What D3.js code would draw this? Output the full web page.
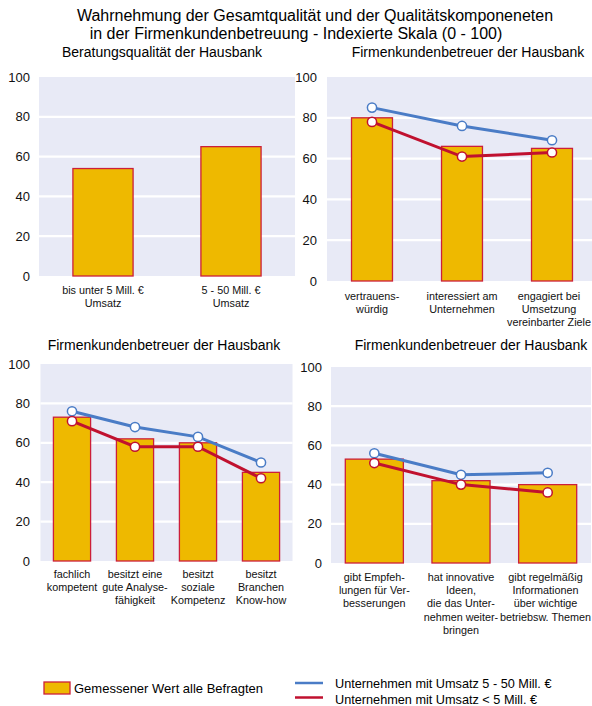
<!DOCTYPE html>
<html>
<head>
<meta charset="utf-8">
<script src="https://cdn.jsdelivr.net/npm/d3@7"></script>
<style>
	body { margin: 0; background: #fff; }
	svg { display: block; font-family: "Liberation Sans", Arial, sans-serif; }
</style>
</head>
<body>
<svg id="chart" width="592" height="706"></svg>
<script>
// data
const ticks = [0, 20, 40, 60, 80, 100];

const catsBeratung = ["bis unter 5 Mill. €\nUmsatz", "5 - 50 Mill. €\nUmsatz"];
const allBeratung = [54, 65];

const catsBetreuer1 = ["vertrauens-\nwürdig", "interessiert am\nUnternehmen", "engagiert bei\nUmsetzung\nvereinbarter Ziele"];
const allBetreuer1 = [80, 66, 65];
const bigBetreuer1 = [85, 76, 69];
const smallBetreuer1 = [78, 61, 63];

const catsBetreuer2 = ["fachlich\nkompetent", "besitzt eine\ngute Analyse-\nfähigkeit", "besitzt\nsoziale\nKompetenz", "besitzt\nBranchen\nKnow-how"];
const allBetreuer2 = [73, 62, 60, 45];
const bigBetreuer2 = [76, 68, 63, 50];
const smallBetreuer2 = [71, 58, 58, 42];

const catsBetreuer3 = ["gibt Empfeh-\nlungen für Ver-\nbesserungen", "hat innovative\nIdeen,\ndie das Unter-\nnehmen weiter-\nbringen", "gibt regelmäßig\nInformationen\nüber wichtige\nbetriebsw. Themen"];
const allBetreuer3 = [53, 42, 40];
const bigBetreuer3 = [56, 45, 46];
const smallBetreuer3 = [51, 40, 36];

const titleLines = ["Wahrnehmung der Gesamtqualität und der Qualitätskomponeneten",
	"in der Firmenkundenbetreuung - Indexierte Skala (0 - 100)"];
const legendBar = "Gemessener Wert alle Befragten";
const legendBig = "Unternehmen mit Umsatz 5 - 50 Mill. €";
const legendSmall = "Unternehmen mit Umsatz < 5 Mill. €";

//////////////////////////////////////////////////////////////////////

const colors = {
	bg: "#e8eaf6",
	bar: "#eeb900",
	barStroke: "#cc1f3a",
	big: "#4a7cc6",
	small: "#c0112f"
};

const svg = d3.select("#chart");

svg.append("text")
	.attr("x", 315).attr("y", 21)
	.attr("text-anchor", "middle")
	.attr("font-size", 16)
	.text(titleLines[0]);

svg.append("text")
	.attr("x", 296).attr("y", 39)
	.attr("text-anchor", "middle")
	.attr("font-size", 16)
	.text(titleLines[1]);

function renderPanel(cfg) {

	const g = svg.append("g");

	const x = d3.scaleBand()
		.domain(cfg.cats)
		.range([cfg.x0, cfg.x1])
		.paddingInner(cfg.pad)
		.paddingOuter(cfg.pad / 2);

	const y = d3.scaleLinear()
		.domain([0, 100])
		.range([cfg.yBottom, cfg.yTop]);

	const right = Math.min(cfg.x1, 592);

	g.append("rect")
		.attr("x", cfg.x0)
		.attr("y", y(100))
		.attr("width", right - cfg.x0)
		.attr("height", y(0) - y(100))
		.attr("fill", colors.bg);

	// grid
	g.selectAll("line.grid")
		.data(ticks.filter(function(d) { return d > 0 && d < 100; }))
		.join("line")
		.classed("grid", true)
		.attr("x1", cfg.x0)
		.attr("x2", right)
		.attr("y1", function(d) { return y(d); })
		.attr("y2", function(d) { return y(d); })
		.attr("stroke", "#fff")
		.attr("stroke-width", 2.2);

	// y axis labels
	const yAxis = d3.axisLeft(y).tickValues(ticks).tickSize(0).tickPadding(0);
	const ya = g.append("g")
		.attr("transform", "translate(" + cfg.tickX + ",0)")
		.call(yAxis);
	ya.select(".domain").remove();
	ya.selectAll("text")
		.attr("font-size", 13)
		.attr("font-family", "Liberation Sans, Arial, sans-serif")
		.attr("fill", "#111");

	// panel title
	g.append("text")
		.attr("x", cfg.titleX)
		.attr("y", cfg.titleY)
		.attr("text-anchor", "middle")
		.attr("font-size", 14)
		.text(cfg.title);

	// bars
	g.selectAll("rect.bar")
		.data(cfg.all)
		.join("rect")
		.classed("bar", true)
		.attr("x", function(d, i) { return x(cfg.cats[i]); })
		.attr("y", function(d) { return y(d); })
		.attr("width", x.bandwidth())
		.attr("height", function(d) { return y(0) - y(d); })
		.attr("fill", colors.bar)
		.attr("stroke", colors.barStroke)
		.attr("stroke-width", 1.3);

	// lines
	const series = [];
	if (cfg.big) series.push({ values: cfg.big, color: colors.big });
	if (cfg.small) series.push({ values: cfg.small, color: colors.small });

	for (const s of series) {
		const line = d3.line()
			.x(function(d, i) { return x(cfg.cats[i]) + x.bandwidth() / 2; })
			.y(function(d) { return y(d); });

		g.append("path")
			.datum(s.values)
			.attr("d", line)
			.attr("fill", "none")
			.attr("stroke", s.color)
			.attr("stroke-width", 3);

		g.selectAll(null)
			.data(s.values)
			.join("circle")
			.attr("cx", function(d, i) { return x(cfg.cats[i]) + x.bandwidth() / 2; })
			.attr("cy", function(d) { return y(d); })
			.attr("r", 4.6)
			.attr("fill", "#fff")
			.attr("stroke", s.color)
			.attr("stroke-width", 1.5);
	}

	// category labels
	const labels = g.selectAll("text.cat")
		.data(cfg.cats)
		.join("text")
		.classed("cat", true)
		.attr("text-anchor", "middle")
		.attr("font-size", 10.8)
		.attr("fill", "#111");

	labels.selectAll("tspan")
		.data(function(d) { return d.split("\n"); })
		.join("tspan")
		.attr("x", 0)
		.attr("y", function(d, i) { return i * 13.2; })
		.text(function(d) { return d; });

	// keep labels inside the page
	labels.attr("transform", function(d) {
		let cx = x(d) + x.bandwidth() / 2;
		const half = this.getBBox().width / 2;
		if (cx + half > 591) cx = 591 - half;
		return "translate(" + cx + "," + (y(0) + cfg.labelOffset) + ")";
	});
}

renderPanel({
	title: "Beratungsqualität der Hausbank", titleX: 162, titleY: 57,
	cats: catsBeratung, all: allBeratung,
	x0: 39, x1: 295, pad: 0.53, yBottom: 276, yTop: 77, tickX: 30, labelOffset: 18
});

renderPanel({
	title: "Firmenkundenbetreuer der Hausbank", titleX: 468, titleY: 57,
	cats: catsBetreuer1, all: allBetreuer1, big: bigBetreuer1, small: smallBetreuer1,
	x0: 327, x1: 597, pad: 0.545, yBottom: 281, yTop: 77, tickX: 317, labelOffset: 19
});

renderPanel({
	title: "Firmenkundenbetreuer der Hausbank", titleX: 164, titleY: 350,
	cats: catsBetreuer2, all: allBetreuer2, big: bigBetreuer2, small: smallBetreuer2,
	x0: 40.5, x1: 292.5, pad: 0.41, yBottom: 561, yTop: 364, tickX: 30, labelOffset: 17
});

renderPanel({
	title: "Firmenkundenbetreuer der Hausbank", titleX: 471, titleY: 350,
	cats: catsBetreuer3, all: allBetreuer3, big: bigBetreuer3, small: smallBetreuer3,
	x0: 331, x1: 591, pad: 0.33, yBottom: 563, yTop: 367, tickX: 322, labelOffset: 18
});

// legend
const legend = svg.append("g");

legend.append("rect")
	.attr("x", 44).attr("y", 682)
	.attr("width", 26).attr("height", 12)
	.attr("fill", colors.bar)
	.attr("stroke", colors.barStroke)
	.attr("stroke-width", 1.3);

legend.append("text")
	.attr("x", 74).attr("y", 692.5)
	.attr("font-size", 13)
	.text(legendBar);

legend.append("line")
	.attr("x1", 295).attr("x2", 323)
	.attr("y1", 683).attr("y2", 683)
	.attr("stroke", colors.big).attr("stroke-width", 2.5);

legend.append("line")
	.attr("x1", 295).attr("x2", 323)
	.attr("y1", 697.5).attr("y2", 697.5)
	.attr("stroke", colors.small).attr("stroke-width", 2.5);

legend.append("text")
	.attr("x", 335).attr("y", 687.5)
	.attr("font-size", 12.7)
	.text(legendBig);

legend.append("text")
	.attr("x", 335).attr("y", 704)
	.attr("font-size", 12.7)
	.text(legendSmall);
</script>
</body>
</html>
